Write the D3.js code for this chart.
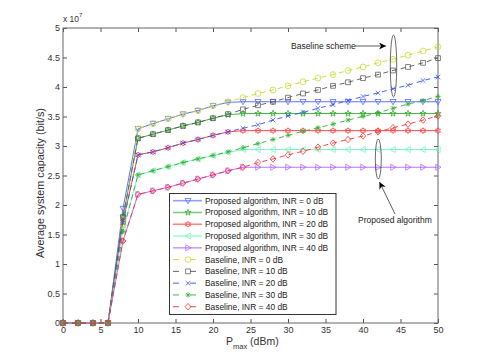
<!DOCTYPE html>
<html><head><meta charset="utf-8">
<script src="https://cdn.jsdelivr.net/npm/d3@7"></script>
<style>body{margin:0;background:#fff;} text{font-family:"Liberation Sans",Arial,sans-serif;}</style>
</head><body><svg id="c" width="485" height="363"></svg>
<script>
// ---- data ----
const xValues = [0,2,4,6,8,10,12,14,16,18,20,22,24,26,28,30,32,34,36,38,40,42,44,46,48,50];
const xTicks = [0,5,10,15,20,25,30,35,40,45,50];
const yTicks = [0,0.5,1,1.5,2,2.5,3,3.5,4,4.5,5];
const seriesNames = [
  "Proposed algorithm, INR = 0 dB","Proposed algorithm, INR = 10 dB","Proposed algorithm, INR = 20 dB",
  "Proposed algorithm, INR = 30 dB","Proposed algorithm, INR = 40 dB",
  "Baseline, INR = 0 dB","Baseline, INR = 10 dB","Baseline, INR = 20 dB","Baseline, INR = 30 dB","Baseline, INR = 40 dB"];
const propINR0  = [0,0,0,0,1.94,3.29,3.38,3.46,3.54,3.60,3.68,3.74,3.75,3.75,3.75,3.75,3.75,3.75,3.75,3.75,3.75,3.75,3.75,3.75,3.75,3.75];
const propINR10 = [0,0,0,0,1.80,3.13,3.20,3.27,3.34,3.40,3.47,3.53,3.55,3.55,3.55,3.55,3.55,3.55,3.55,3.55,3.55,3.55,3.55,3.55,3.55,3.55];
const propINR20 = [0,0,0,0,1.72,2.85,2.90,2.97,3.05,3.11,3.18,3.24,3.26,3.26,3.26,3.26,3.26,3.26,3.26,3.26,3.26,3.26,3.26,3.26,3.26,3.26];
const propINR30 = [0,0,0,0,1.58,2.51,2.58,2.65,2.72,2.78,2.84,2.89,2.94,2.94,2.94,2.94,2.94,2.94,2.94,2.94,2.94,2.94,2.94,2.94,2.94,2.94];
const propINR40 = [0,0,0,0,1.39,2.18,2.24,2.30,2.37,2.44,2.51,2.58,2.64,2.64,2.64,2.64,2.64,2.64,2.64,2.64,2.64,2.64,2.64,2.64,2.64,2.64];
const baseINR0  = [0,0,0,0,1.66,3.29,3.38,3.46,3.54,3.60,3.68,3.75,3.82,3.89,3.95,4.02,4.09,4.15,4.21,4.28,4.34,4.41,4.47,4.54,4.61,4.68];
const baseINR10 = [0,0,0,0,1.80,3.13,3.20,3.27,3.34,3.40,3.47,3.54,3.62,3.69,3.75,3.82,3.89,3.95,4.02,4.08,4.15,4.21,4.28,4.34,4.41,4.49];
const baseINR20 = [0,0,0,0,1.70,2.85,2.90,2.97,3.05,3.11,3.18,3.24,3.30,3.36,3.44,3.51,3.57,3.64,3.70,3.77,3.84,3.90,3.97,4.03,4.11,4.17];
const baseINR30 = [0,0,0,0,1.55,2.51,2.58,2.65,2.72,2.78,2.84,2.90,2.97,3.04,3.11,3.18,3.25,3.31,3.37,3.44,3.50,3.56,3.64,3.71,3.77,3.84];
const baseINR40 = [0,0,0,0,1.39,2.18,2.24,2.30,2.37,2.44,2.51,2.58,2.64,2.72,2.78,2.85,2.91,2.98,3.05,3.11,3.17,3.24,3.31,3.37,3.44,3.51];

// ---- styles ----
const series = [
  {name:seriesNames[0], v:propINR0,  color:"#4d62ff", marker:"tdown",  dash:null},
  {name:seriesNames[1], v:propINR10, color:"#2faa2f", marker:"pent",   dash:null},
  {name:seriesNames[2], v:propINR20, color:"#ff3030", marker:"hex",    dash:null},
  {name:seriesNames[3], v:propINR30, color:"#6ff5b8", marker:"tleft",  dash:null},
  {name:seriesNames[4], v:propINR40, color:"#b061ff", marker:"tright", dash:null},
  {name:seriesNames[5], v:baseINR0,  color:"#c6d82c", marker:"circle", dash:"5,4"},
  {name:seriesNames[6], v:baseINR10, color:"#555555", marker:"square", dash:"5,4"},
  {name:seriesNames[7], v:baseINR20, color:"#3050ff", marker:"x",      dash:"5,4"},
  {name:seriesNames[8], v:baseINR30, color:"#30b030", marker:"ast",    dash:"5,4"},
  {name:seriesNames[9], v:baseINR40, color:"#ff3030", marker:"diamond",dash:"5,4"}
];

const svg = d3.select("#c");
svg.append("rect").attr("width",485).attr("height",363).attr("fill","#fff");
const x = d3.scaleLinear().domain([0,50]).range([63,438]);
const y = d3.scaleLinear().domain([0,5]).range([323,28]);

function starPath(n, R, r){
  let p=[];
  for(let i=0;i<2*n;i++){
    const a = -Math.PI/2 + i*Math.PI/n;
    const rr = i%2===0?R:r;
    p.push([rr*Math.cos(a), rr*Math.sin(a)]);
  }
  return "M"+p.map(q=>q[0].toFixed(2)+","+q[1].toFixed(2)).join("L")+"Z";
}
function markerPath(m){
  const s=3;
  switch(m){
    case "tdown": return `M${-s},${-s*0.75}L${s},${-s*0.75}L0,${s}Z`;
    case "tleft": return `M${s*0.75},${-s}L${s*0.75},${s}L${-s},0Z`;
    case "tright": return `M${-s*0.75},${-s}L${-s*0.75},${s}L${s},0Z`;
    case "pent": return starPath(5,3.3,1.3);
    case "hex": return starPath(6,2.9,1.7);
    case "circle": return d3.symbol(d3.symbolCircle, Math.PI*2.9*2.9)();
    case "square": return `M-2.4,-2.4H2.4V2.4H-2.4Z`;
    case "diamond": return `M0,-3.3L2.8,0L0,3.3L-2.8,0Z`;
    case "x": return `M-2.3,-2.3L2.3,2.3M-2.3,2.3L2.3,-2.3`;
    case "ast": return `M-2.6,0H2.6M0,-2.6V2.6M-1.9,-1.9L1.9,1.9M-1.9,1.9L1.9,-1.9`;
  }
}

// axes box and ticks
const gx = svg.append("g").attr("transform","translate(0,323)")
  .call(d3.axisBottom(x).tickValues(xTicks).tickFormat(d=>d).tickSizeInner(-4).tickSizeOuter(0).tickPadding(4));
const gxt = svg.append("g").attr("transform","translate(0,28)")
  .call(d3.axisTop(x).tickValues(xTicks).tickFormat("").tickSizeInner(-4).tickSizeOuter(0));
const gy = svg.append("g").attr("transform","translate(63,0)")
  .call(d3.axisLeft(y).tickValues(yTicks).tickFormat(d=>d).tickSizeInner(-4).tickSizeOuter(0).tickPadding(3));
const gyr = svg.append("g").attr("transform","translate(438,0)")
  .call(d3.axisRight(y).tickValues(yTicks).tickFormat("").tickSizeInner(-4).tickSizeOuter(0));
[gx,gxt,gy,gyr].forEach(g=>{
  g.select(".domain").remove();
  g.selectAll(".tick line").attr("stroke","#555");
  g.selectAll("text").attr("font-size","9px").attr("fill","#333").attr("font-family","Liberation Sans, Arial, sans-serif");
});
svg.append("rect").attr("x",63).attr("y",28).attr("width",375).attr("height",295)
  .attr("fill","none").attr("stroke","#666").attr("stroke-width",1);

// series
const line = d3.line().x((d,i)=>x(xValues[i])).y(d=>y(d));
series.forEach(s=>{
  const g = svg.append("g");
  g.append("path").attr("d",line(s.v)).attr("fill","none").attr("stroke",s.color)
    .attr("stroke-width",0.9).attr("stroke-dasharray",s.dash);
  g.selectAll("path.m").data(s.v).enter().append("path").attr("class","m")
    .attr("d",markerPath(s.marker))
    .attr("transform",(d,i)=>`translate(${x(xValues[i])},${y(d)})`)
    .attr("fill","none").attr("stroke",s.color).attr("stroke-width",0.75);
});

// exponent label
const ex = svg.append("text").attr("x",63).attr("y",22).attr("font-size","8.5px").attr("fill","#333");
ex.append("tspan").text("x 10");
ex.append("tspan").attr("dy",-5).attr("font-size","6px").text("7");

// axis labels
const xl = svg.append("text").attr("x",226).attr("y",345).attr("font-size","10.5px").attr("fill","#333");
xl.append("tspan").text("P");
xl.append("tspan").attr("dy",4).attr("font-size","7.5px").text("max");
xl.append("tspan").attr("dy",-4).text(" (dBm)");
svg.append("text").attr("transform","translate(44,183) rotate(-90)").attr("text-anchor","middle")
  .attr("font-size","10.8px").attr("fill","#333").text("Average system capacity (bit/s)");

// legend
const lg = svg.append("g");
lg.append("rect").attr("x",169.5).attr("y",193.5).attr("width",166.5).attr("height",121)
  .attr("fill","#fff").attr("stroke","#333").attr("stroke-width",1);
series.forEach((s,i)=>{
  const yy = 200.7 + i*11.78;
  lg.append("line").attr("x1",173).attr("x2",202).attr("y1",yy).attr("y2",yy)
    .attr("stroke",s.color).attr("stroke-width",s.dash?0.9:1.6).attr("stroke-opacity",s.dash?1:0.6)
    .attr("stroke-dasharray",s.dash?"6,11":null);
  lg.append("path").attr("d",markerPath(s.marker)).attr("transform",`translate(188,${yy})`)
    .attr("fill","none").attr("stroke",s.color).attr("stroke-width",0.75);
  lg.append("text").attr("x",205).attr("y",yy+3).attr("font-size","8.4px").attr("fill","#222").text(s.name);
});

// annotations
svg.append("defs").append("marker").attr("id","ah").attr("viewBox","0 0 10 10").attr("refX",10).attr("refY",5)
  .attr("markerWidth",9).attr("markerHeight",7).attr("markerUnits","userSpaceOnUse").attr("orient","auto")
  .append("path").attr("d","M0,0L10,5L0,10L3,5Z").attr("fill","#000");
svg.append("text").attr("x",291).attr("y",49).attr("font-size","8.5px").attr("fill","#222").text("Baseline scheme");
svg.append("line").attr("x1",355).attr("y1",46).attr("x2",386).attr("y2",46)
  .attr("stroke","#333").attr("stroke-width",0.8).attr("marker-end","url(#ah)");
svg.append("ellipse").attr("cx",393.5).attr("cy",66).attr("rx",3.2).attr("ry",31)
  .attr("fill","none").attr("stroke","#444").attr("stroke-width",0.8);
svg.append("ellipse").attr("cx",378.3).attr("cy",159).attr("rx",3).attr("ry",20)
  .attr("fill","none").attr("stroke","#444").attr("stroke-width",0.8);
svg.append("line").attr("x1",395).attr("y1",214).attr("x2",379.5).attr("y2",182)
  .attr("stroke","#333").attr("stroke-width",0.8).attr("marker-end","url(#ah)");
svg.append("text").attr("x",358).attr("y",223).attr("font-size","8.5px").attr("fill","#222").text("Proposed algorithm");
</script></body></html>
